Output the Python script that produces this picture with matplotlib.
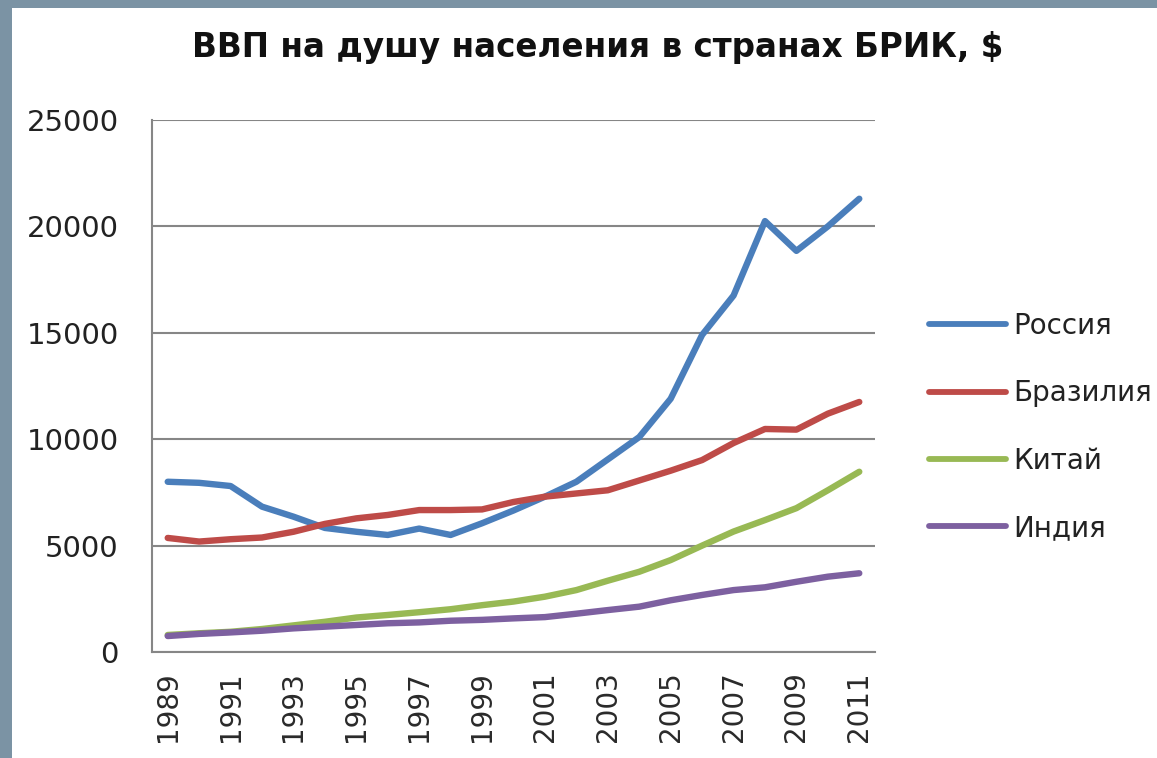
import matplotlib
matplotlib.use('Agg')
import matplotlib.pyplot as plt
from matplotlib.patches import Rectangle

# GDP per capita, BRIC countries, 1989-2011 ($)
years = list(range(1989, 2012))
russia = [8000, 7950, 7800, 6830, 6360, 5830, 5650, 5500, 5800, 5500, 6050, 6650,
          7300, 8000, 9050, 10100, 11900, 14900, 16750, 20250, 18850, 20000, 21300]
brazil = [5360, 5190, 5300, 5380, 5650, 6020, 6280, 6440, 6670, 6670, 6700, 7050,
          7300, 7450, 7600, 8060, 8520, 9020, 9820, 10480, 10450, 11200, 11750]
china = [800, 880, 950, 1080, 1250, 1420, 1620, 1740, 1870, 2010, 2200, 2370,
         2600, 2910, 3350, 3770, 4320, 5000, 5660, 6200, 6760, 7600, 8470]
india = [750, 850, 920, 1000, 1110, 1190, 1270, 1350, 1390, 1470, 1510, 1580,
         1640, 1800, 1970, 2130, 2430, 2680, 2910, 3040, 3300, 3540, 3700]

series = [
    ('Россия', russia, '#4A7EBB'),
    ('Бразилия', brazil, '#BE4B48'),
    ('Китай', china, '#98B954'),
    ('Индия', india, '#7D60A0'),
]

fig = plt.figure(figsize=(11.57, 7.58), dpi=100)
fig.patch.set_facecolor('white')

# slide frame strips on the left and top
fig.patches.append(Rectangle((0, 0), 12 / 1157, 1, transform=fig.transFigure,
                             facecolor='#7B93A4', edgecolor='none', zorder=0))
fig.patches.append(Rectangle((0, 1 - 8 / 758), 1, 8 / 758, transform=fig.transFigure,
                             facecolor='#7B93A4', edgecolor='none', zorder=0))

ax = fig.add_axes([152 / 1157, 106 / 758, 723 / 1157, 532 / 758])

x = list(range(len(years)))
for name, vals, color in series:
    ax.plot(x, vals, color=color, lw=4.6, label=name,
            solid_capstyle='round', solid_joinstyle='round')

ax.set_xlim(-0.5, len(years) - 0.5)
ax.set_ylim(0, 25000)
ax.set_yticks(range(0, 25001, 5000))
ax.set_xticks(x[::2])
ax.set_xticklabels([str(y) for y in years[::2]], rotation=90,
                   fontsize=20, color='#2a2a2a')
for lab in ax.get_yticklabels():
    lab.set_fontsize(21)
    lab.set_color('#222222')

ax.tick_params(axis='both', length=0)
ax.tick_params(axis='y', pad=24)
ax.tick_params(axis='x', pad=14)
ax.grid(axis='y', color='#868686', lw=1.5)
ax.set_axisbelow(True)
for side in ('top', 'right'):
    ax.spines[side].set_visible(False)
for side in ('left', 'bottom'):
    ax.spines[side].set_color('#868686')
    ax.spines[side].set_linewidth(1.5)

leg = ax.legend(loc='center left', bbox_to_anchor=(1.06, 0.423), frameon=False,
                fontsize=20, handlelength=2.75, handletextpad=0.25,
                labelspacing=1.42, borderaxespad=0)
for line in leg.get_lines():
    line.set_linewidth(4.2)
for t in leg.get_texts():
    t.set_color('#222222')

fig.text(598 / 1157, 1 - 47 / 758, 'ВВП на душу населения в странах БРИК, $',
         ha='center', va='center', fontsize=23.5, fontweight='bold', color='#111111')

fig.savefig('out.png', dpi=100)
